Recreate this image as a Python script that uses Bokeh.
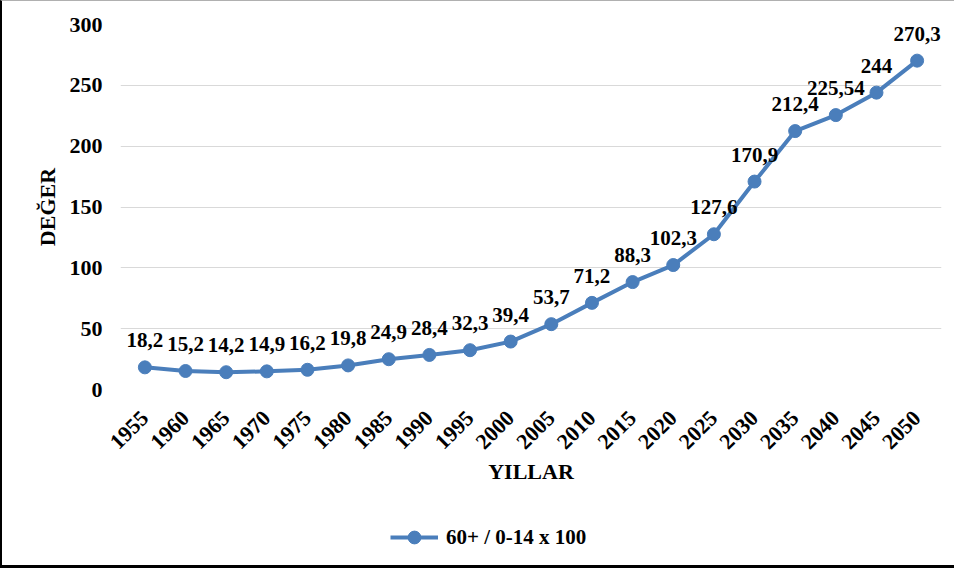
import math
from bokeh.plotting import figure
from bokeh.layouts import column
from bokeh.models import (ColumnDataSource, LabelSet, Legend, LegendItem, FactorRange,
                          Range1d, FixedTicker)
from bokeh.core.properties import value
from bokeh.embed import file_html
from bokeh.resources import INLINE

years = ["1955", "1960", "1965", "1970", "1975", "1980", "1985", "1990", "1995", "2000",
         "2005", "2010", "2015", "2020", "2025", "2030", "2035", "2040", "2045", "2050"]
ratio = [18.2, 15.2, 14.2, 14.9, 16.2, 19.8, 24.9, 28.4, 32.3, 39.4,
         53.7, 71.2, 88.3, 102.3, 127.6, 170.9, 212.4, 225.54, 244, 270.3]
y_ticks = [0, 50, 100, 150, 200, 250, 300]
series_name = "60+ / 0-14 x 100"
x_title = "YILLAR"
y_title = "DEĞER"

labels = [f"{v:g}".replace(".", ",") for v in ratio]
src = ColumnDataSource(dict(x=years, y=ratio, lab=labels))

FONT = "Liberation Serif"
BLUE = "#4a7ebb"
W, H1, H2 = 954, 500, 68

# ---- main chart ----
p = figure(x_range=FactorRange(*years, range_padding=0.01), y_range=Range1d(0, 300),
           width=W, height=H1, output_backend="svg", toolbar_location=None,
           min_border_left=118, min_border_right=15, min_border_top=23, min_border_bottom=112)
p.styles = {"border-left": "2px solid black", "border-top": "1px solid #b0b0b0"}
p.outline_line_color = None
p.xgrid.grid_line_color = None
p.ygrid.grid_line_color = "#d9d9d9"
p.ygrid.grid_line_width = 1

p.yaxis.ticker = FixedTicker(ticks=y_ticks)
for ax in (p.xaxis[0], p.yaxis[0]):
    ax.axis_line_color = None
    ax.major_tick_line_color = None
    ax.minor_tick_line_color = None
    ax.major_label_text_font = FONT
    ax.major_label_text_font_style = "bold"
    ax.major_label_text_color = "black"
    ax.major_label_text_font_size = "22px"
    ax.axis_label_text_font = FONT
    ax.axis_label_text_font_style = "bold"
    ax.axis_label_text_font_size = "22px"
    ax.axis_label_text_color = "black"

p.xaxis.axis_label = x_title
p.yaxis.axis_label = y_title
p.yaxis.major_label_standoff = 12
p.yaxis.axis_label_standoff = 7
p.xaxis.major_label_orientation = math.pi / 4
p.xaxis.major_label_standoff = 19
p.xaxis.axis_label_standoff = 0

p.line("x", "y", source=src, line_color=BLUE, line_width=4)
p.scatter("x", "y", source=src, size=13, fill_color=BLUE, line_color=BLUE)

lbl = LabelSet(x="x", y="y", text="lab", source=src, y_offset=27,
               text_align="center", text_baseline="middle",
               text_font=value(FONT), text_font_style="bold", text_font_size="21px",
               text_color="black")
p.add_layout(lbl)

# ---- legend strip (same series, drawn out of view so only its legend shows) ----
p2 = figure(x_range=FactorRange(*years), y_range=Range1d(-10, -9),
            width=W, height=H2, output_backend="svg", toolbar_location=None,
            x_axis_type=None, y_axis_type=None, min_border=0)
p2.styles = {"border-left": "2px solid black", "border-bottom": "3px solid black"}
p2.outline_line_color = None
p2.grid.visible = False
ln2 = p2.line("x", "y", source=src, line_color=BLUE, line_width=4)
sc2 = p2.scatter("x", "y", source=src, size=13, fill_color=BLUE, line_color=BLUE)

legend = Legend(items=[LegendItem(label=series_name, renderers=[ln2, sc2])],
                location=(270, 15), orientation="horizontal",
                label_text_font=FONT, label_text_font_style="bold", label_text_font_size="21px",
                label_text_color="black", glyph_width=48, glyph_height=32,
                label_standoff=8, padding=0, margin=0, spacing=0,
                border_line_color=None, background_fill_alpha=0)
p2.add_layout(legend, "center")

layout = column(p, p2, spacing=0)
open("out.html", "w").write(file_html(layout, INLINE))
